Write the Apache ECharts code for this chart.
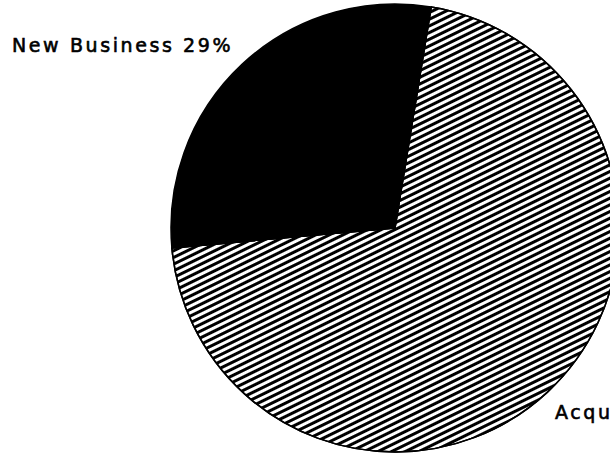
<!DOCTYPE html>
<html>
<head>
<meta charset="utf-8">
<script src="https://cdn.jsdelivr.net/npm/echarts@6/dist/echarts.min.js"></script>
<style>
  html, body { margin: 0; padding: 0; background: #fff; }
  #chart { width: 610px; height: 454px; }
  /* the old plotter font is set wide, svg text takes css spacing */
  #chart text { letter-spacing: 2.6px; }
</style>
</head>
<body>
<div id="chart"></div>
<script>
const categories = ['Acquisitions', 'New Business'];
const shares = [71, 29];

const chart = echarts.init(document.getElementById('chart'), null, { renderer: 'svg' });

// hatched fill for the big slice, solid black for the small one
const hatch = {
  symbol: 'rect',
  symbolSize: 1,
  color: '#000',
  backgroundColor: '#fff',
  dashArrayX: [1, 0],
  dashArrayY: [2.3, 2.1],
  rotation: -26 * Math.PI / 180
};

const slices = categories.map((name, i) => ({
  name: name,
  value: shares[i],
  itemStyle: i === 0 ? { color: '#fff', decal: hatch } : { color: '#000' }
}));

const option = {
  animation: false,
  backgroundColor: '#fff',
  series: [
    {
      type: 'pie',
      center: [395, 228],
      radius: 224,
      startAngle: 80.7,
      clockwise: true,
      avoidLabelOverlap: false,
      itemStyle: { borderColor: '#000', borderWidth: 1.5 },
      label: {
        show: true,
        position: 'outside',
        formatter: '{b} {c}%',
        color: '#000',
        fontFamily: 'DejaVu Sans',
        fontSize: 19,
        textBorderColor: '#000',
        textBorderWidth: 0.6
      },
      labelLine: { show: false },
      labelLayout: function (params) {
        if (params.dataIndex === 1) {
          return { x: 12, y: 45, align: 'left', verticalAlign: 'middle' };
        }
        return { x: 555, y: 412, align: 'left', verticalAlign: 'middle' };
      },
      emphasis: { disabled: true },
      data: slices
    }
  ]
};

chart.setOption(option);
</script>
</body>
</html>
